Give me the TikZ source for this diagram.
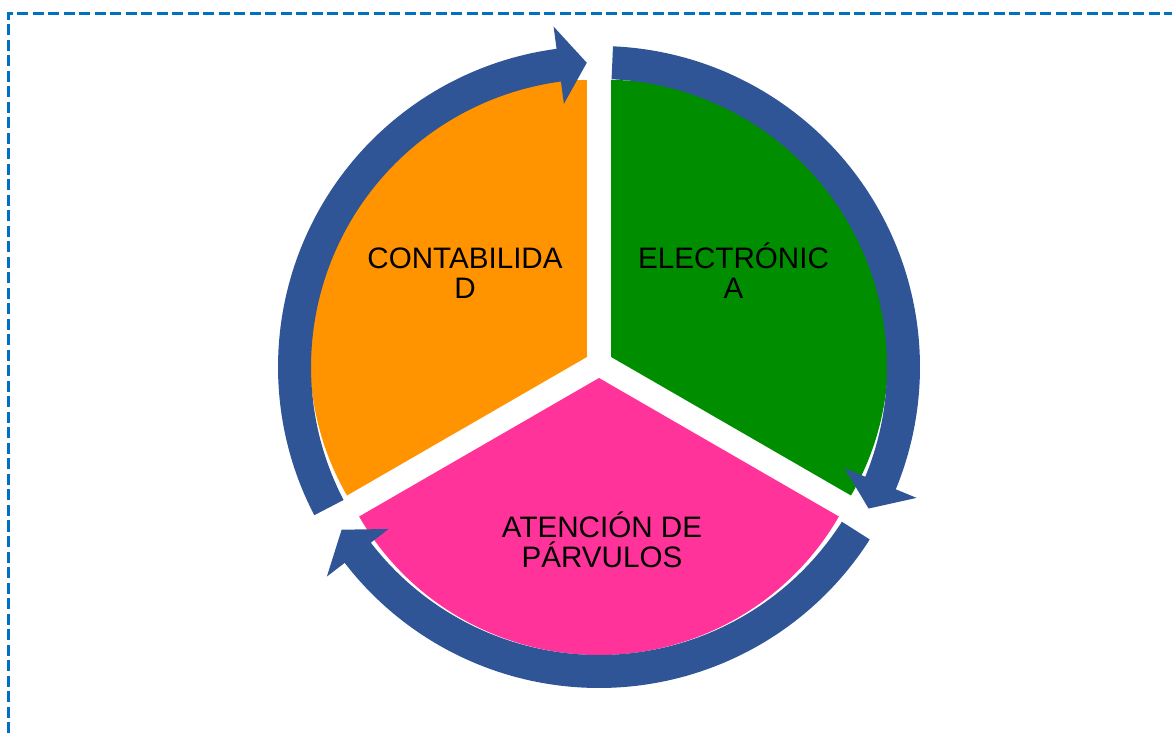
\documentclass[tikz,border=0pt]{standalone}
\usepackage{fontspec}
\setmainfont{Liberation Sans}
\usetikzlibrary{calc}
\definecolor{ringblue}{HTML}{2F5597}
\definecolor{segorange}{HTML}{FF9300}
\definecolor{seggreen}{HTML}{008E00}
\definecolor{segpink}{HTML}{FF3399}
\definecolor{frameblue}{HTML}{0070C0}
\newcommand\cyclearrow[3]{%
  \fill[ringarrow] (#1:321) arc[start angle=#1,end angle=#2,radius=321]
    -- (#2:343.5) -- (#3:304.5) -- (#2:265.5) -- (#2:288)
    arc[start angle=#2,end angle=#1,radius=288] -- cycle;}
\begin{document}
\begin{tikzpicture}[x=1pt,y=1pt,
  seglabel/.style={font=\fontsize{29.6}{30}\selectfont, align=center, inner sep=0pt, anchor=south, text=black},
  ringarrow/.style={fill=ringblue},
  framebox/.style={draw=frameblue, line width=3pt, dash pattern=on 11pt off 4.5pt}]
\useasboundingbox (0,0) rectangle (1172,734);
\draw[framebox] (8.3,-30) -- (8.3,720.7) -- (1200,720.7);
\coordinate (Cs) at (599,370);
% segments
\fill[segorange] ($(Cs)+(150:14)$) -- ++(90:277) arc[start angle=90,end angle=210,radius=277] -- cycle;
\fill[seggreen] ($(Cs)+(30:14)$) -- ++(-30:277) arc[start angle=-30,end angle=90,radius=277] -- cycle;
\fill[segpink] ($(Cs)+(270:14)$) -- ++(210:277) arc[start angle=210,end angle=330,radius=277] -- cycle;
% arrows
\begin{scope}[shift={(599,367)}]
\cyclearrow{207.5}{97.6}{92.3}
\cyclearrow{87.5}{-22.4}{-27.7}
\cyclearrow{-32.5}{-142.4}{-147.7}
\end{scope}
% labels
\node[seglabel] (contab) at (465,435) {CONTABILIDA\\D};
\node[seglabel] (electr) at (733.5,435) {ELECTRÓNIC\\A};
\node[seglabel] (atenc) at (602,166) {ATENCIÓN DE\\PÁRVULOS};
\end{tikzpicture}
\end{document}
